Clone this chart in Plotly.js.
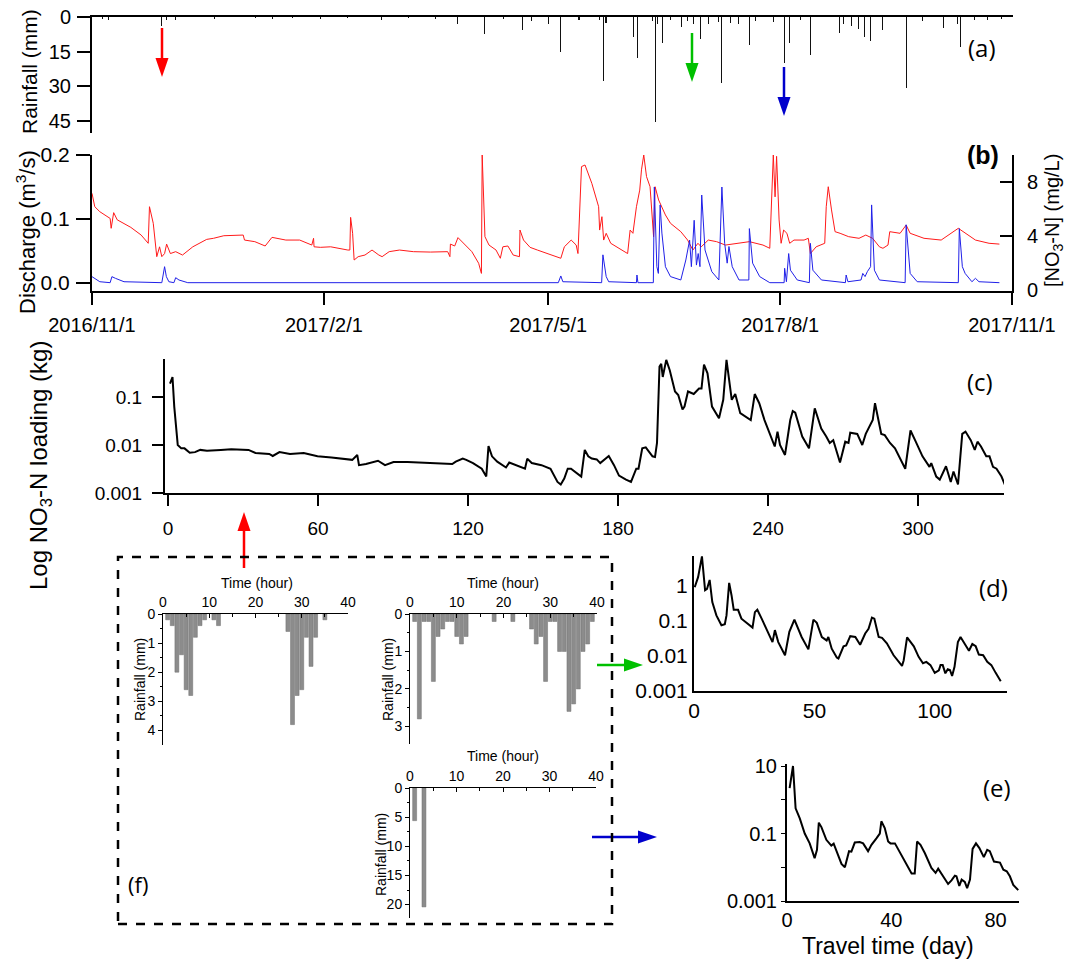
<!DOCTYPE html>
<html><head><meta charset="utf-8">
<script src="https://cdn.plot.ly/plotly-3.0.1.min.js"></script>
<style>html,body{margin:0;padding:0;background:#fff}#chart{width:1067px;height:962px}</style>
</head><body><div id="chart"></div>
<script>
// ---------- DATA ----------
// (a) rainfall spikes: day since 2016/11/1, rainfall (mm)
const rainDay = [4.0,6.7,27.7,29.6,33.2,48.5,64.7,71.4,79.5,90.4,101.1,114.7,125.3,136.2,144.9,155.7,163.2,170.8,174.1,180.8,185.7,193,201.1,202.6,203.7,214.5,216.2,222.1,223.2,224,225.9,229.4,233.5,236.1,238.3,241,244.2,248.3,249.6,252.9,256.4,260.4,263.1,269.9,274.6,276.6,280.7,284.7,296.1,297.7,300.9,303.6,306.3,308.5,313.4,322.6,329.3,337.4,342.9,344.2,349.6,355,360.4];
const rainMm  = [0.9,1.5,3.7,1.5,1.2,0.9,0.6,0.7,0.6,0.7,0.6,1.2,0.6,0.9,3.0,7.4,1.0,5.6,1.8,3.0,15,1.2,1.5,27.6,2.7,8.9,18,1.8,45.5,3.0,11.1,1.5,4.4,1.8,3.0,9.6,3.0,2.2,28.7,2.7,3.0,12.1,1.8,2.2,20,11.5,1.5,16.6,7.1,3,3.7,5.2,8.9,10.6,5.6,31,1.8,4.7,3,12.9,1.5,1.2,0.7];

// (b) [NO3-N] (mg/L), red
const no3Day = [0,1.1,3.1,7.2,7.6,8.6,10,15.4,19.5,22.3,22.8,24.3,25.7,26.8,27.7,28.8,29.6,31.1,33.2,35.9,40,45.5,48.2,52.3,60,60.5,64.6,68.7,71.4,76.9,82.4,87.2,87.9,88.1,90.6,94.7,101.5,102.3,102.6,103.4,104,105.6,108.3,111.1,113.8,115.1,117.9,122,127.5,134.3,141.1,142,142.2,143.9,145.2,147.3,150.7,153.4,154.5,154.8,155.9,157.5,160.3,162,163,165,167.1,169.6,169.8,171.2,173.8,176.7,186,187.4,190.1,192.1,192.8,194.2,195.6,198.3,201,201.4,202.3,203,204,205.8,209.1,212.5,213.5,214.6,216,217.3,218,218.9,220,221.4,222.8,223.4,224.8,226.1,227.5,229.5,233.6,236.3,238.4,240.4,241.7,244.5,247.8,251.3,255.4,260.8,266.2,268.9,270.3,271,271.6,272.6,273.4,274.4,275.7,276.8,278.5,282.5,284.2,285,287.3,290.7,291.3,292.1,293.4,294.8,296.8,300.2,304.3,307,309.7,312.4,313.8,315.8,316.5,320.6,323,324.6,330.1,336.9,343.7,346.4,350.5,355.9,360];
const no3Val = [7.16,6.17,5.8,5.3,4.57,5.73,5.2,4.64,4.07,3.46,6.17,4.94,2.47,3.2,2.47,2.7,3.4,2.7,2.84,2.59,3.2,3.75,3.83,4.02,4.07,3.7,3.58,3.26,3.9,3.7,3.7,3.33,3.83,3.2,3.16,3.2,2.96,2.96,5.38,4.2,2.22,2.47,2.59,2.96,2.59,2.47,2.84,2.96,2.84,2.81,2.84,2.47,3.4,3.26,3.88,3.46,2.84,1.98,1.23,10.0,3.95,3.33,2.96,2.35,3.2,3.26,2.59,2.47,4.44,3.7,3.16,2.96,2.35,3.2,3.7,3.33,2.7,9.14,9.26,7.9,6.17,4.44,5.43,3.7,4.2,3.46,3.09,2.7,4.44,4.2,6.17,7.4,8.9,10.0,8.4,7.65,3.95,7.65,6.67,6.17,5.56,4.94,4.32,3.7,2.96,3.46,3.2,3.7,3.58,3.33,3.46,3.58,3.33,3.09,10.0,6.9,9.9,5.19,3.46,4.44,4.2,3.46,3.7,3.7,3.83,2.7,3.2,3.46,6.17,7.65,5.93,4.32,4.2,3.95,3.83,4.07,3.83,3.2,3.09,3.33,4.32,4.2,4.81,4.2,3.83,3.7,4.57,4.2,3.7,3.46,3.4];

// (b) discharge (m3/s), blue
const qDay = [0,3.1,7.2,7.9,9.3,12.7,27.7,28.8,29.5,30.5,32.5,33.2,34.5,38,185,186,186.8,202.2,202.7,204,205,216,216.2,216.6,222.7,223.1,224.1,224.7,225.4,226.1,227.5,229.5,233.6,234.3,235.6,237.1,237.8,238.9,239.8,240.5,241.2,241.9,243.2,245.9,248.7,249.9,251,252,252.7,254,256.7,260.6,260.8,262.1,264.9,268.9,274.6,274.8,275.5,276.4,277.1,279.8,284.6,285,286,289.4,298.9,299.2,299.9,305.1,305.8,306.7,307.6,308.9,309.3,310.4,312.4,322.6,323,324.6,327.4,343.7,344.1,345.3,346.4,349.1,350.5,351.9,360];
const qVal = [0.0099,0.002,0.0005,0.0099,0.0073,0.002,0.0005,0.0255,0.0099,0.002,0.0005,0.0083,0.0047,0.0005,0.0005,0.011,0.002,0.0005,0.044,0.01,0.002,0.0005,0.0125,0.0005,0.0005,0.15,0.0255,0.015,0.122,0.078,0.0255,0.01,0.0047,0.015,0.036,0.067,0.0255,0.098,0.028,0.046,0.0255,0.1375,0.0516,0.0177,0.0047,0.15,0.062,0.031,0.057,0.0255,0.0047,0.0047,0.085,0.031,0.01,0.0005,0.0005,0.023,0.002,0.046,0.02,0.0047,0.0005,0.062,0.02,0.0047,0.0005,0.0125,0.002,0.0047,0.015,0.01,0.0177,0.0255,0.122,0.02,0.0047,0.0005,0.091,0.015,0.002,0.0005,0.085,0.0255,0.015,0.002,0.0073,0.002,0.0005];

// (c) NO3-N loading (kg) vs day
const cDay = [0.8,1.8,2.5,3.2,3.9,5.3,6.6,8.7,10.8,12.9,15.6,21.1,25.3,32.2,35,40.5,41.9,44.6,48.8,54.3,59.8,65.4,70.9,73.7,75.7,76.4,79.2,84,86.8,90.2,95.8,104.1,113.7,115.1,117.9,119.3,122,125.5,127.3,128.2,129.6,131.7,135.2,136.5,140,142.8,143.7,145.5,149.4,153,155.8,157.1,158.5,159.9,161.2,163.3,165.3,166.7,168.1,169.5,171.5,172.9,176.3,178.4,180.4,183.2,185.2,187.3,188.2,189.7,191.1,193.8,194.8,195.6,196.6,197.3,197.9,199.3,200.7,202.8,204.1,205.8,206.6,208,210.3,212.4,213.4,214.4,215.8,217.6,220.4,222.1,223.4,225.5,226.9,228.9,231,233.1,234.7,236.5,238.6,241.3,242.7,243.8,244.8,246.8,248.9,249.9,250.9,253.7,256.4,258.7,261.3,263.3,264.7,266.1,268.8,270.9,272.2,272.9,275.7,277.7,279.1,281.9,282.8,285.3,286.7,288.8,290.8,294.9,297,299.1,301.8,304.6,305.3,307.3,308.7,311.2,313.1,314.2,316,317.7,319,321.1,322.7,323.8,325.2,327.3,328.6,330,331.4,333.4,335.2];
const cLoad = [0.19,0.26,0.063,0.020,0.010,0.0085,0.0085,0.0069,0.0071,0.0079,0.0076,0.0079,0.0081,0.0079,0.0068,0.0065,0.0059,0.0071,0.0065,0.0068,0.0058,0.0055,0.0051,0.0049,0.0062,0.0038,0.0040,0.0047,0.0038,0.0044,0.0044,0.0042,0.0040,0.0045,0.0052,0.0049,0.0042,0.0032,0.0022,0.0095,0.0058,0.0045,0.0034,0.0043,0.0037,0.0032,0.0052,0.0042,0.0038,0.0032,0.0017,0.0015,0.0020,0.0032,0.0032,0.0026,0.0022,0.0079,0.0058,0.0052,0.0050,0.0042,0.0059,0.0038,0.0023,0.0019,0.0017,0.0032,0.0032,0.0085,0.0089,0.0058,0.0056,0.011,0.43,0.49,0.26,0.59,0.36,0.13,0.11,0.055,0.063,0.13,0.115,0.15,0.15,0.47,0.31,0.063,0.036,0.087,0.59,0.087,0.115,0.046,0.039,0.033,0.115,0.074,0.033,0.015,0.0093,0.019,0.010,0.0062,0.033,0.051,0.047,0.015,0.0085,0.058,0.022,0.015,0.011,0.0126,0.0043,0.0117,0.011,0.018,0.017,0.010,0.017,0.033,0.074,0.017,0.016,0.011,0.0085,0.0032,0.020,0.0117,0.0058,0.0035,0.0042,0.0022,0.0019,0.0036,0.0017,0.0028,0.0015,0.017,0.019,0.0126,0.0079,0.0117,0.0093,0.0058,0.0058,0.0035,0.0032,0.0022,0.0013];

// (d) loading vs travel time (day)
const dDay = [0.3,1.7,3.3,4.6,5.4,6.5,7.6,9.3,11.4,12.8,13.5,14.6,15.6,16.5,18.3,19.7,21.8,24.3,25.3,26.3,28.1,30.8,32.6,33.6,35,37.8,39.6,41.7,44.7,47.5,49.6,51,53.1,55.1,55.8,57.2,59.3,60,62.1,63.2,64.9,67,69,71.1,72.5,73.9,74.9,76.7,78.1,80.1,82.9,86.4,87.1,88.5,91.3,93.3,95.1,96.5,98.2,100,101.7,102.4,103.3,104.4,105.4,106.3,107.2,108.2,109.6,110.7,112.1,114.2,115.6,117,118.3,120.1,121.8,123.5,125.3,127.4];
const dLoad = [0.93,1.8,7.1,0.76,0.83,1.5,0.35,0.145,0.076,0.081,0.145,1.23,0.54,0.21,0.21,0.117,0.089,0.065,0.18,0.21,0.117,0.049,0.025,0.055,0.025,0.0105,0.049,0.11,0.035,0.0155,0.11,0.089,0.035,0.028,0.035,0.0162,0.0091,0.0085,0.019,0.020,0.037,0.035,0.021,0.044,0.06,0.126,0.117,0.035,0.033,0.023,0.0105,0.0052,0.0076,0.034,0.019,0.0095,0.0062,0.0068,0.0055,0.0033,0.0039,0.0055,0.0055,0.0032,0.0042,0.004,0.0027,0.0049,0.025,0.035,0.025,0.0141,0.022,0.019,0.011,0.0105,0.0068,0.0055,0.0033,0.0019];

// (e) loading vs travel time (day)
const eDay = [1,2.3,3.3,4.9,6.8,8.7,10.6,11.5,12.2,13.2,15.1,17,17.9,18.9,20.9,22.2,23.8,24.7,26,27.9,29.2,31.1,32.4,34.3,35.6,36.2,37.5,38.8,39.7,41.4,44.6,47.8,49,49.9,51.2,52.9,55.4,57,58,59.9,61.8,63.1,64.4,65,66.1,67,68.2,69.1,70.2,71.2,72.5,73.8,75.5,76.8,77.8,79.4,80.4,81.7,83,84.3,85.5,86.8,88.7];
const eLoad = [2.2,10,0.56,0.28,0.1,0.051,0.0186,0.033,0.21,0.155,0.065,0.044,0.05,0.03,0.0126,0.01,0.03,0.029,0.054,0.056,0.051,0.03,0.046,0.072,0.1,0.23,0.145,0.058,0.051,0.051,0.0186,0.0065,0.0065,0.058,0.046,0.026,0.0095,0.0068,0.0091,0.0054,0.0032,0.0041,0.0056,0.0054,0.0028,0.0043,0.0037,0.0024,0.0043,0.035,0.051,0.037,0.02,0.033,0.03,0.0148,0.0141,0.0138,0.0085,0.0076,0.0054,0.003,0.0021];

// (f) hourly rainfall of three events
const f1Hour = [1,2,3,4,5,6,7,8,9,11,12,27,28,29,30,31,32,33,35];
const f1Mm   = [0.2,0.4,2.0,1.4,2.6,2.8,0.8,0.4,0.2,0.2,0.4,0.6,3.8,2.8,2.6,0.8,1.8,0.8,0.2];
const f2Hour = [1,2,3,4,5,6,7,8,9,10,11,12,18,22,26,27,28,29,30,31,32,33,34,35,36,37,38,39];
const f2Mm   = [0.2,2.8,0.2,0.2,1.8,0.6,0.4,0.2,0.2,0.6,0.8,0.6,0.2,0.2,0.4,0.8,0.6,1.8,0.2,0.2,1.0,1.0,2.6,2.4,2.0,1.0,0.8,0.2];
const f3Hour = [1,3];
const f3Mm   = [5.6,20.4];

const dateTicks = ['2016-11-01','2017-02-01','2017-05-01','2017-08-01','2017-11-01'];
const dateTickText = ['2016/11/1','2017/2/1','2017/5/1','2017/8/1','2017/11/1'];

// ---------- HELPERS ----------
const W = 1067, H = 962;
const px = x => x / W, py = y => 1 - y / H;
const toDate = d => new Date(Date.UTC(2016, 10, 1) + d * 86400000).toISOString().slice(0, 19).replace('T', ' ');
const FONT = 'Liberation Sans, Arial, sans-serif';
const PFONT = 'Open Sans, Liberation Sans, sans-serif';

const base = (o) => Object.assign({
  showline: true, linecolor: '#000', linewidth: 2, mirror: false,
  showgrid: false, zeroline: false, ticks: 'outside', tickcolor: '#000',
  tickwidth: 2, tickfont: {family: FONT, size: 19, color: '#000'}
}, o);

// ---------- TRACES ----------
const traces = [
  {type: 'bar', x: rainDay.map(toDate), y: rainMm, xaxis: 'x', yaxis: 'y',
   width: 0.4 * 86400000, marker: {color: '#111', line: {width: 0}}},
  {type: 'scatter', mode: 'lines', x: no3Day.map(toDate), y: no3Val, xaxis: 'x2', yaxis: 'y2',
   line: {color: '#ff1a1a', width: 1}},
  {type: 'scatter', mode: 'lines', x: qDay.map(toDate), y: qVal, xaxis: 'x2', yaxis: 'y3',
   line: {color: '#2020e8', width: 1}},
  {type: 'scatter', mode: 'lines', x: cDay, y: cLoad, xaxis: 'x4', yaxis: 'y4',
   line: {color: '#000', width: 2}},
  {type: 'scatter', mode: 'lines', x: dDay, y: dLoad, xaxis: 'x5', yaxis: 'y5',
   line: {color: '#000', width: 2}},
  {type: 'scatter', mode: 'lines', x: eDay, y: eLoad, xaxis: 'x6', yaxis: 'y6',
   line: {color: '#000', width: 2}},
  {type: 'bar', x: f1Hour, y: f1Mm, xaxis: 'x7', yaxis: 'y7', width: 0.85,
   marker: {color: '#8c8c8c', line: {color: '#6f6f6f', width: 0.5}}},
  {type: 'bar', x: f2Hour, y: f2Mm, xaxis: 'x8', yaxis: 'y8', width: 0.85,
   marker: {color: '#8c8c8c', line: {color: '#6f6f6f', width: 0.5}}},
  {type: 'bar', x: f3Hour, y: f3Mm, xaxis: 'x9', yaxis: 'y9', width: 0.85,
   marker: {color: '#8c8c8c', line: {color: '#6f6f6f', width: 0.5}}}
];

const fx = (o) => base(Object.assign({side: 'top', range: [0, 40], tick0: 0, dtick: 10,
  ticks: 'inside', ticklen: 4, tickwidth: 1, linewidth: 1,
  minor: {dtick: 5, ticks: 'inside', ticklen: 3, tickcolor: '#000'},
  tickfont: {family: FONT, size: 14, color: '#000'}}, o));
const fy = (o) => base(Object.assign({ticks: 'outside', ticklen: 4, tickwidth: 1, linewidth: 1,
  tickfont: {family: FONT, size: 14, color: '#000'}}, o));

const layout = {
  width: W, height: H, margin: {l: 0, r: 0, t: 0, b: 0},
  paper_bgcolor: '#ffffff', plot_bgcolor: 'rgba(0,0,0,0)', showlegend: false, bargap: 0,
  font: {family: FONT, color: '#000'},
  // (a)
  xaxis: base({domain: [px(92), px(1013)], type: 'date', range: ['2016-11-01', '2017-11-01'],
    anchor: 'y', side: 'top', ticks: '', showticklabels: false}),
  yaxis: base({domain: [py(133), py(17)], range: [50.4, 0], anchor: 'x',
    tickvals: [0, 15, 30, 45], ticklen: 13, ticklabelstandoff: 2,
    tickfont: {family: FONT, size: 20, color: '#000'}}),
  // (b)
  xaxis2: base({domain: [px(92), px(1012)], type: 'date', range: ['2016-11-01', '2017-11-01'],
    anchor: 'y2', tickvals: dateTicks, ticktext: dateTickText, ticklen: 12, ticklabelstandoff: 3,
    tickfont: {family: FONT, size: 20, color: '#000'}}),
  yaxis2: base({domain: [py(291), py(155)], range: [-0.074, 10.0], anchor: 'x2', side: 'right',
    tickvals: [0, 4, 8], ticks: 'inside', ticklen: 12, ticklabelstandoff: 9,
    tickfont: {family: FONT, size: 20, color: '#000'}}),
  yaxis3: base({overlaying: 'y2', anchor: 'x2', side: 'left', range: [-0.0125, 0.2],
    tickvals: [0, 0.1, 0.2], ticktext: ['0.0', '0.1', '0.2'], ticklen: 14, ticklabelstandoff: 2,
    tickfont: {family: FONT, size: 21, color: '#000'}}),
  // (c)
  xaxis4: base({domain: [px(165), px(1004)], range: [-1.2, 334.4], anchor: 'y4',
    tickvals: [0, 60, 120, 180, 240, 300], ticklen: 11, ticklabelstandoff: 6}),
  yaxis4: base({domain: [py(493), py(359)], type: 'log', range: [-3, -0.21], anchor: 'x4',
    tickvals: [0.001, 0.01, 0.1], ticktext: ['0.001', '0.01', '0.1'], ticklen: 11, ticklabelstandoff: 6}),
  // (d)
  xaxis5: base({domain: [px(694), px(1007)], range: [0, 130], anchor: 'y5',
    tickvals: [0, 50, 100], ticks: '', tickfont: {family: FONT, size: 21, color: '#000'}}),
  yaxis5: base({domain: [py(691), py(556)], type: 'log', range: [-3, 0.86], anchor: 'x5',
    tickvals: [0.001, 0.01, 0.1, 1], ticktext: ['0.001', '0.01', '0.1', '1'], ticks: '',
    tickfont: {family: FONT, size: 21, color: '#000'}}),
  // (e)
  xaxis6: base({domain: [px(787), px(1019)], range: [0, 89], anchor: 'y6',
    tickvals: [0, 40, 80], ticks: '', tickfont: {family: FONT, size: 20, color: '#000'}}),
  yaxis6: base({domain: [py(901), py(764)], type: 'log', range: [-3, 1.06], anchor: 'x6',
    tickvals: [0.001, 0.1, 10], ticktext: ['0.001', '0.1', '10'], ticklen: 4, tickwidth: 1,
    minor: {tickvals: [0.01, 1], ticks: 'outside', ticklen: 4, tickwidth: 1, tickcolor: '#000'},
    tickfont: {family: FONT, size: 20, color: '#000'}}),
  // (f)
  xaxis7: fx({domain: [px(163), px(348)], anchor: 'y7'}),
  yaxis7: fy({domain: [py(745), py(614)], range: [4.5, 0], anchor: 'x7', tickvals: [0, 1, 2, 3, 4],
    minor: {tickvals: [0.5, 1.5, 2.5, 3.5], ticks: 'outside', ticklen: 2, tickcolor: '#000'}}),
  xaxis8: fx({domain: [px(410), px(597)], anchor: 'y8'}),
  yaxis8: fy({domain: [py(744), py(614)], range: [3.47, 0], anchor: 'x8', tickvals: [0, 1, 2, 3],
    minor: {tickvals: [0.5, 1.5, 2.5], ticks: 'outside', ticklen: 2, tickcolor: '#000'}}),
  xaxis9: fx({domain: [px(410), px(596)], anchor: 'y9'}),
  yaxis9: fy({domain: [py(918), py(788)], range: [22.3, 0], anchor: 'x9', tickvals: [0, 5, 10, 15, 20],
    minor: {tickvals: [2.5, 7.5, 12.5, 17.5], ticks: 'outside', ticklen: 2, tickcolor: '#000'}})
};

// ---------- ANNOTATIONS ----------
const ann = (text, x, y, size, extra) => Object.assign({
  text: text, xref: 'paper', yref: 'paper', x: px(x), y: py(y), xanchor: 'center', yanchor: 'middle',
  showarrow: false, font: {family: FONT, size: size, color: '#000'}
}, extra || {});
layout.annotations = [
  ann('Rainfall (mm)', 29, 72, 21, {textangle: -90}),
  ann('Discharge (m<sup>3</sup>/s)', 26, 232, 22, {textangle: -90}),
  ann('[NO<sub>3</sub>-N] (mg/L)', 1054, 221, 20, {textangle: -90}),
  ann('Log NO<sub>3</sub>-N loading (kg)', 40, 466, 24, {textangle: -90}),
  ann('Travel time (day)', 888, 946, 23),
  ann('Time (hour)', 257, 583, 14),
  ann('Time (hour)', 503, 583, 14),
  ann('Time (hour)', 503, 756, 14),
  ann('Rainfall (mm)', 140, 680, 14, {textangle: -90}),
  ann('Rainfall (mm)', 388, 680, 14, {textangle: -90}),
  ann('Rainfall (mm)', 381, 855, 14, {textangle: -90}),
  ann('(a)', 982, 47, 24, {font: {family: PFONT, size: 24, color: '#000'}}),
  ann('<b>(b)</b>', 983, 155, 24, {font: {family: FONT, size: 25, color: '#000'}}),
  ann('(c)', 980, 381, 24, {font: {family: PFONT, size: 24, color: '#000'}}),
  ann('(d)', 993, 587, 24, {font: {family: PFONT, size: 24, color: '#000'}}),
  ann('(e)', 997, 787, 24, {font: {family: PFONT, size: 24, color: '#000'}}),
  ann('(f)', 138, 884, 22, {font: {family: PFONT, size: 22, color: '#000'}})
];

// ---------- SHAPES (arrows, dashed frame) ----------
const shapes = [];
function arrow(x1, y1, x2, y2, color) {
  const len = Math.hypot(x2 - x1, y2 - y1), ux = (x2 - x1) / len, uy = (y2 - y1) / len;
  const hl = 19, hw = 6.5;
  const bx = x2 - ux * hl, by = y2 - uy * hl;
  shapes.push({type: 'line', xref: 'paper', yref: 'paper', x0: px(x1), y0: py(y1), x1: px(bx), y1: py(by),
    line: {color: color, width: 2.5}});
  const p1 = [bx - uy * hw, by + ux * hw], p2 = [bx + uy * hw, by - ux * hw];
  shapes.push({type: 'path', xref: 'paper', yref: 'paper',
    path: `M ${px(x2)} ${py(y2)} L ${px(p1[0])} ${py(p1[1])} L ${px(p2[0])} ${py(p2[1])} Z`,
    fillcolor: color, line: {color: color, width: 0}});
}
arrow(162, 28, 162, 77, '#ff0000');
arrow(692, 33, 692, 82, '#00c000');
arrow(784, 67, 784, 116, '#0000cc');
arrow(244, 568, 244, 512, '#ff0000');
arrow(597, 665, 643, 665, '#00c000');
arrow(592, 837, 657, 837, '#0000cc');
shapes.push({type: 'rect', xref: 'paper', yref: 'paper', x0: px(118), x1: px(612), y0: py(924), y1: py(557),
  line: {color: '#000', width: 2.5, dash: 'dash'}, fillcolor: 'rgba(0,0,0,0)'});
layout.shapes = shapes;

Plotly.newPlot('chart', traces, layout, {displayModeBar: false, staticPlot: true});
</script>
</body></html>
